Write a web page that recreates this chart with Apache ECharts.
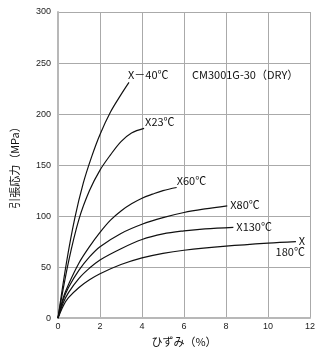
<!DOCTYPE html>
<html>
<head>
<meta charset="utf-8">
<script src="https://cdn.jsdelivr.net/npm/echarts@6/dist/echarts.min.js"></script>
<style>
html,body{margin:0;padding:0;background:#fff;}
#chart{width:323px;height:352px;}
</style>
</head>
<body>
<div id="chart"></div>
<script>
// Strain (%) / stress (MPa)
const strainM40 = [0, 0.4, 0.8, 1.2, 1.6, 2.0, 2.5, 3.0, 3.38];
const stressM40 = [0, 54, 98, 132, 158, 180, 202, 219, 231];
const strain23 = [0, 0.5, 1.0, 1.5, 2.0, 2.5, 3.0, 3.5, 4.1];
const stress23 = [0, 55, 97, 125, 145, 160, 173, 181.5, 186];
const strain60 = [0, 0.25, 0.5, 1.0, 1.5, 2.0, 2.5, 3.0, 3.5, 4.0, 4.5, 5.0, 5.65];
const stress60 = [0, 20, 33, 54, 70, 84, 96, 105, 112, 117.5, 121.5, 125, 128];
const strain80 = [0, 0.25, 0.5, 1.0, 1.5, 2.0, 3.0, 4.0, 5.0, 6.0, 7.0, 8.06];
const stress80 = [0, 18, 30, 47, 60, 70, 83, 92, 98.5, 103.5, 107, 110];
const strain130 = [0, 0.25, 0.5, 1.0, 1.5, 2.0, 3.0, 4.0, 5.0, 6.0, 7.0, 8.35];
const stress130 = [0, 15, 25, 39, 49, 57, 68, 77, 82.5, 85.5, 87.5, 89];
const strain180 = [0, 0.25, 0.5, 1.0, 1.5, 2.0, 3.0, 4.0, 5.0, 6.0, 8.0, 10.0, 11.33];
const stress180 = [0, 12, 20, 30, 37.5, 43.5, 52.5, 59, 63.5, 66.5, 70.5, 73.5, 75];

const curveLabels = ['X－40℃', 'X23℃', 'X60℃', 'X80℃', 'X130℃', 'X\n180℃'];
const xTicks = [0, 2, 4, 6, 8, 10, 12];
const yTicks = [0, 50, 100, 150, 200, 250, 300];
const title = 'CM3001G-30（DRY）';
const xName = 'ひずみ（%）';
const yName = '引張応力（MPa）';

const strains = [strainM40, strain23, strain60, strain80, strain130, strain180];
const stresses = [stressM40, stress23, stress60, stress80, stress130, stress180];

const labelStyles = [
  {distance: 5, offset: [-6, -8]},
  {distance: 5, offset: [-4, -7]},
  {distance: 5, offset: [-5, -7]},
  {distance: 3, offset: [0, -1]},
  {distance: 3, offset: [0, 0]},
  {distance: 9, offset: [0, 5], align: 'right', lineHeight: 11}
];

const CJK = '"Noto Sans CJK JP", "Noto Sans", sans-serif';

const series = strains.map((xs, i) => ({
  type: 'line',
  data: xs.map((x, j) => [x, stresses[i][j]]),
  smooth: 0.35,
  showSymbol: false,
  symbol: 'none',
  silent: true,
  lineStyle: {color: '#111', width: 1.2},
  endLabel: Object.assign({
    show: true,
    formatter: curveLabels[i],
    color: '#111',
    fontSize: 11,
    fontFamily: CJK
  }, labelStyles[i]),
  z: 5
}));

const chart = echarts.init(document.getElementById('chart'), null, {renderer: 'canvas'});
chart.setOption({
  animation: false,
  backgroundColor: '#fff',
  grid: {left: 58, right: 13, top: 12, bottom: 28, containLabel: false},
  title: {
    text: title,
    left: 192,
    top: 69,
    textStyle: {fontSize: 11, fontWeight: 'normal', color: '#111', fontFamily: CJK},
    padding: 0
  },
  xAxis: {
    type: 'value',
    min: xTicks[0],
    max: xTicks[xTicks.length - 1],
    interval: xTicks[1] - xTicks[0],
    name: xName,
    nameLocation: 'middle',
    nameGap: 14,
    nameTextStyle: {fontSize: 11, color: '#111', fontFamily: CJK},
    axisLine: {show: true, onZero: false, lineStyle: {color: '#b8b8b8', width: 2}},
    axisTick: {show: false},
    axisLabel: {margin: 4, fontSize: 9, color: '#222', fontFamily: '"Liberation Sans Narrow", "Liberation Sans", sans-serif'},
    splitLine: {show: true, lineStyle: {color: '#aaaaaa', width: 1}}
  },
  yAxis: {
    type: 'value',
    min: yTicks[0],
    max: yTicks[yTicks.length - 1],
    interval: yTicks[1] - yTicks[0],
    name: yName,
    nameLocation: 'middle',
    nameGap: 38,
    nameRotate: 90,
    nameTextStyle: {fontSize: 11, color: '#111', fontFamily: CJK},
    axisLine: {show: true, onZero: false, lineStyle: {color: '#b8b8b8', width: 2}},
    axisTick: {show: false},
    axisLabel: {margin: 7, fontSize: 9, color: '#222', fontFamily: '"Liberation Sans Narrow", "Liberation Sans", sans-serif'},
    splitLine: {show: true, lineStyle: {color: '#aaaaaa', width: 1}}
  },
  series: series
});
</script>
</body>
</html>
